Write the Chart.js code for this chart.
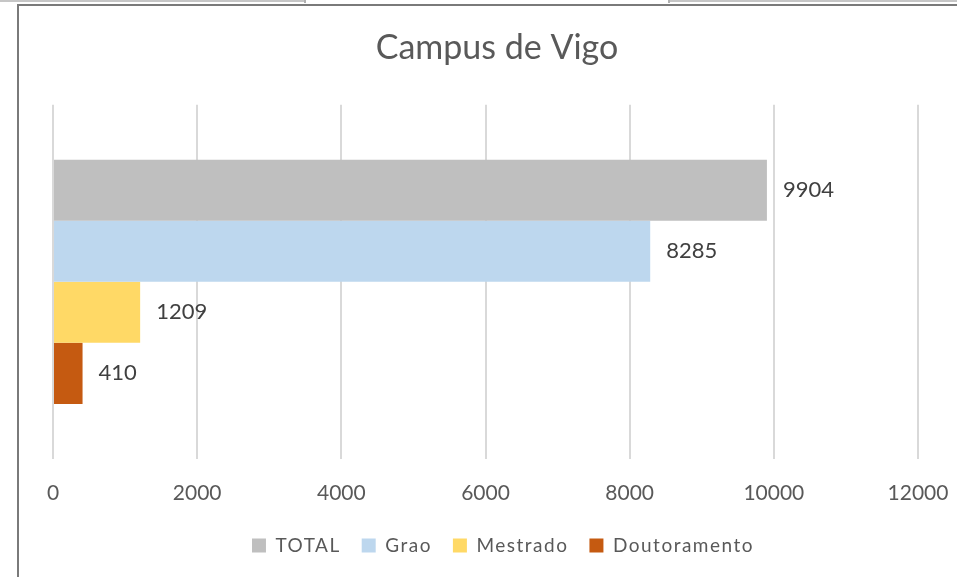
<!DOCTYPE html>
<html>
<head>
<meta charset="utf-8">
<script src="https://cdn.jsdelivr.net/npm/chart.js@4/dist/chart.umd.min.js"></script>
<style>
  html, body { margin: 0; padding: 0; background: #ffffff; overflow: hidden; }
  #wrap { position: absolute; left: 0; top: 0; width: 957px; height: 577px; overflow: hidden; }
  canvas { position: absolute; left: 0; top: 0; }
  .deco { position: absolute; }
</style>
</head>
<body>
<div id="wrap">
  <canvas id="c" width="994" height="577"></canvas>
  <div class="deco" style="left:0;top:0;width:305px;height:2px;background:#c6c6c6;"></div>
  <div class="deco" style="left:304px;top:0;width:2px;height:3px;background:#b0b0b0;"></div>
  <div class="deco" style="left:669px;top:0;width:288px;height:2px;background:#c6c6c6;"></div>
  <div class="deco" style="left:668px;top:0;width:2px;height:3px;background:#b0b0b0;"></div>
  <div class="deco" style="left:17px;top:4px;width:940px;height:2px;background:#7a7a7a;"></div>
  <div class="deco" style="left:17px;top:4px;width:2px;height:573px;background:#7a7a7a;"></div>
</div>
<script>
const categories = ["Campus de Vigo"];
const seriesNames = ["TOTAL", "Grao", "Mestrado", "Doutoramento"];
const totalValues = [9904];
const graoValues = [8285];
const mestradoValues = [1209];
const doutoramentoValues = [410];
const tickValues = [0, 2000, 4000, 6000, 8000, 10000, 12000];
const tickLabels = ["0", "2000", "4000", "6000", "8000", "10000", "12000"];
const seriesColors = ["#bfbfbf", "#bdd7ee", "#ffd966", "#c55a11"];

const FONT = "Lato, 'Open Sans', sans-serif";

const dataLabelPlugin = {
  id: "dataLabels",
  afterDatasetsDraw(chart) {
    const ctx = chart.ctx;
    ctx.save();
    ctx.font = "22px " + FONT;
    ctx.fillStyle = "#404040";
    ctx.textAlign = "left";
    ctx.textBaseline = "middle";
    chart.data.datasets.forEach((ds, i) => {
      const meta = chart.getDatasetMeta(i);
      meta.data.forEach((bar, j) => {
        ctx.fillText(String(ds.data[j]), bar.x + 16, bar.y);
      });
    });
    ctx.restore();
  }
};

const seriesData = [totalValues, graoValues, mestradoValues, doutoramentoValues];

const hiddenSide = (w) => ({
  display: true,
  grid: { display: false, drawTicks: false },
  border: { display: false },
  ticks: { display: false },
  afterFit(axis) { axis.width = w; }
});

const chart = new Chart(document.getElementById("c"), {
  type: "bar",
  data: {
    labels: categories,
    datasets: seriesNames.map((name, i) => ({
      label: name,
      data: seriesData[i],
      backgroundColor: seriesColors[i],
      borderWidth: 0,
      barPercentage: 1.0,
      categoryPercentage: 0.69
    }))
  },
  options: {
    indexAxis: "y",
    responsive: false,
    animation: false,
    devicePixelRatio: 1,
    layout: { padding: { left: 19, right: 19, top: 0, bottom: 12 } },
    scales: {
      x: {
        min: 0,
        max: 12000,
        afterBuildTicks(axis) { axis.ticks = tickValues.map(v => ({ value: v })); },
        afterFit(axis) { axis.height -= 13; },
        grid: { color: "#d9d9d9", lineWidth: 2, drawTicks: false },
        border: { display: false },
        ticks: {
          font: { family: FONT, size: 21 },
          color: "#595959",
          padding: 22,
          maxRotation: 0,
          callback(value) {
            const k = tickValues.indexOf(value);
            return k >= 0 ? tickLabels[k] : "";
          }
        }
      },
      y: Object.assign({ type: "category", position: "left" }, hiddenSide(34)),
      yRight: Object.assign({ type: "category", position: "right" }, hiddenSide(57))
    },
    plugins: {
      title: {
        display: true,
        text: "Campus de Vigo",
        color: "#595959",
        font: { family: FONT, size: 34, weight: "normal" },
        padding: { top: 28, bottom: 36 }
      },
      legend: {
        position: "bottom",
        labels: {
          font: { family: FONT, size: 19 },
          color: "#595959",
          boxWidth: 14,
          boxHeight: 14,
          padding: 21
        }
      },
      tooltip: { enabled: false }
    }
  },
  plugins: [dataLabelPlugin]
});

// Legend text in the reference is drawn with extra letter spacing
const lg = chart.legend;
if (lg) {
  const origFit = lg.fit.bind(lg);
  const origDraw = lg.draw.bind(lg);
  lg.fit = function () {
    this.ctx.letterSpacing = "1.5px";
    origFit();
    this.ctx.letterSpacing = "0px";
  };
  lg.draw = function () {
    const ctx = this.ctx;
    ctx.save();
    ctx.translate(6, 0);
    ctx.letterSpacing = "1.5px";
    origDraw();
    ctx.letterSpacing = "0px";
    ctx.restore();
  };
  chart.update();
}
</script>
</body>
</html>
